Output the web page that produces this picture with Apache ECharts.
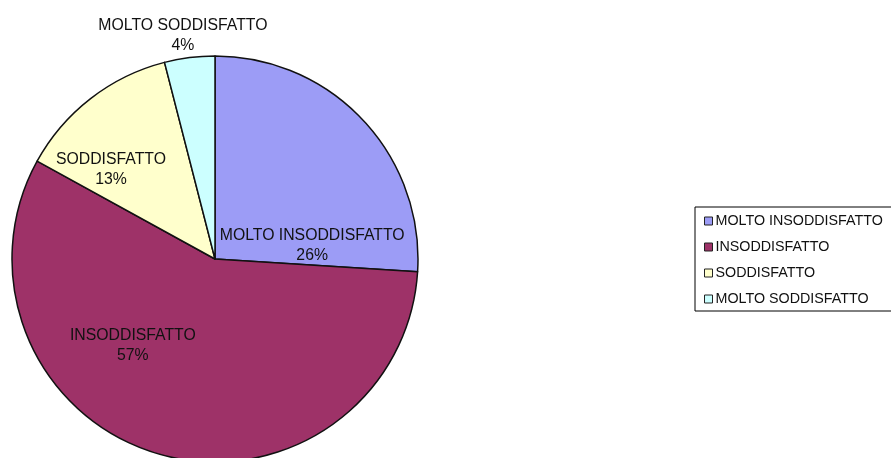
<!DOCTYPE html>
<html>
<head>
<meta charset="utf-8">
<script src="https://cdn.jsdelivr.net/npm/echarts@6/dist/echarts.min.js"></script>
<style>
  html, body { margin: 0; padding: 0; background: #fff; }
  #chart { width: 891px; height: 458px; }
</style>
</head>
<body>
<div id="chart"></div>
<script>
// dati del grafico
var categories = ["MOLTO INSODDISFATTO", "INSODDISFATTO", "SODDISFATTO", "MOLTO SODDISFATTO"];
var percentuali = [26, 57, 13, 4];
var colori = ["#9c9cf6", "#9e3268", "#ffffcc", "#ccffff"];
// spostamento etichette rispetto alla posizione di default (interna)
var spostamenti = [[21, 58], [-53, -14], [-40, -7], [-19, -120]];

var chart = echarts.init(document.getElementById("chart"));

var seriesData = categories.map(function (nome, i) {
  return {
    name: nome,
    value: percentuali[i],
    itemStyle: { color: colori[i] }
  };
});

var option = {
  backgroundColor: "#fff",
  animation: false,
  legend: {
    orient: "vertical",
    left: 695,
    top: 207,
    data: categories,
    icon: "rect",
    itemWidth: 8,
    itemHeight: 8,
    itemGap: 10,
    padding: [6, 120, 4, 9],
    borderColor: "#000",
    borderWidth: 1,
    selectedMode: false,
    textStyle: {
      fontFamily: "Liberation Sans, Arial, sans-serif",
      fontSize: 14.3,
      lineHeight: 16,
      color: "#111",
      padding: [0, 0, 0, -2]
    },
    itemStyle: { borderColor: "#222", borderWidth: 1 }
  },
  series: [{
    type: "pie",
    center: [215, 259],
    radius: 203,
    startAngle: 90,
    clockwise: true,
    data: seriesData,
    itemStyle: { borderColor: "#111", borderWidth: 1.5 },
    label: {
      show: true,
      position: "inside",
      formatter: "{b}\n{d}%",
      fontFamily: "Liberation Sans, Arial, sans-serif",
      fontSize: 15.8,
      lineHeight: 20,
      color: "#111",
      align: "center",
      overflow: "none"
    },
    labelLine: { show: false },
    labelLayout: function (params) {
      var s = spostamenti[params.dataIndex];
      return { dx: s[0], dy: s[1] };
    },
    emphasis: { disabled: true }
  }]
};

chart.setOption(option);
</script>
</body>
</html>
